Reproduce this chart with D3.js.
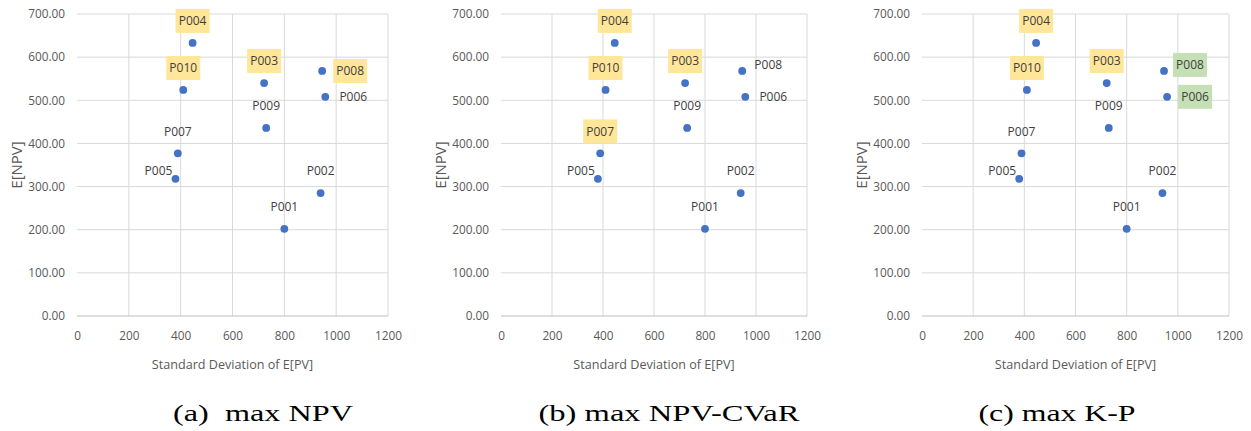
<!DOCTYPE html>
<html>
<head>
<meta charset="utf-8">
<script src="https://d3js.org/d3.v7.min.js"></script>
<style>
  body { margin: 0; background: #fff; }
  svg { display: block; }
  .tick text { font-family: "Open Sans", sans-serif; font-size: 11.8px; fill: #595959; }
</style>
</head>
<body>
<div id="chart"></div>
<script>
// portfolio data
var projects = ["P001", "P002", "P003", "P004", "P005", "P006", "P007", "P008", "P009", "P010"];
var stdDev = [800, 940, 722, 446, 380, 958, 389, 946, 730, 410];
var expNpv = [202, 285, 540, 633, 318, 508, 377, 568, 436, 524];

var xTicks = [0, 200, 400, 600, 800, 1000, 1200];
var yTicks = [0, 100, 200, 300, 400, 500, 600, 700];

var captions = ["(a)  max NPV", "(b) max NPV-CVaR", "(c) max K-P"];
var yellowLabels = [
  ["P004", "P010", "P003", "P008"],
  ["P004", "P010", "P003", "P007"],
  ["P004", "P010", "P003"]
];
var greenLabels = [[], [], ["P008", "P006"]];
// label placement differs a bit per panel
var placement = [
  { P008: "right", P006: "right", P005: "left" },
  { P008: "upright", P006: "right", P005: "left" },
  { P008: "upright", P006: "right", P005: "left" }
];

var W = 1251, H = 431;
var lefts = [77, 501, 922],
  widths = [311, 306, 307],
  captionCx = [263, 669, 1057],
  captionLen = [180, 261, 157],
  plotTop = 14,
  plotBottom = 316;

var svg = d3.select("#chart").append("svg").attr("width", W).attr("height", H);

var offsets = {
  top: [0, -22],
  right: [28, 0],
  upright: [26, -6],
  left: [-17, -8]
};

var data = projects.map(function (p, i) {
  return { name: p, x: stdDev[i], y: expNpv[i] };
});

lefts.forEach(function (left, k) {
  var x = d3.scaleLinear().domain([0, 1200]).range([left, left + widths[k]]);
  var y = d3.scaleLinear().domain([0, 700]).range([plotBottom, plotTop]);

  var g = svg.append("g");

  // grid
  g.append("g")
    .selectAll("line")
    .data(yTicks.filter(function (d) { return d > 0; }))
    .enter()
    .append("line")
    .attr("x1", x(0))
    .attr("x2", x(1200))
    .attr("y1", function (d) { return y(d); })
    .attr("y2", function (d) { return y(d); })
    .attr("stroke", "#d9d9d9")
    .attr("stroke-width", 1);
  g.append("g")
    .selectAll("line")
    .data(xTicks.filter(function (d) { return d > 0; }))
    .enter()
    .append("line")
    .attr("x1", function (d) { return x(d); })
    .attr("x2", function (d) { return x(d); })
    .attr("y1", y(0))
    .attr("y2", y(700))
    .attr("stroke", "#d9d9d9")
    .attr("stroke-width", 1);
  g.append("line")
    .attr("x1", x(0))
    .attr("x2", x(1200))
    .attr("y1", y(0))
    .attr("y2", y(0))
    .attr("stroke", "#bfbfbf");

  // axes (labels only)
  var ax = g.append("g")
    .attr("transform", "translate(0," + y(0) + ")")
    .call(d3.axisBottom(x).tickValues(xTicks).tickSize(0).tickPadding(16).tickFormat(d3.format("d")));
  ax.select(".domain").remove();

  var ay = g.append("g")
    .attr("transform", "translate(" + x(0) + ",0)")
    .call(d3.axisLeft(y).tickValues(yTicks).tickSize(0).tickPadding(12).tickFormat(d3.format(".2f")));
  ay.select(".domain").remove();

  g.append("text")
    .attr("x", (x(0) + x(1200)) / 2)
    .attr("y", 369)
    .attr("text-anchor", "middle")
    .attr("font-family", "Open Sans, sans-serif")
    .attr("font-size", 12.6)
    .attr("fill", "#595959")
    .text("Standard Deviation of E[PV]");

  g.append("text")
    .attr("transform", "translate(" + (x(0) - 55) + "," + (plotTop + plotBottom) / 2 + ") rotate(-90)")
    .attr("text-anchor", "middle")
    .attr("font-family", "Open Sans, sans-serif")
    .attr("font-size", 15)
    .attr("fill", "#595959")
    .text("E[NPV]");

  // points
  g.selectAll("circle")
    .data(data)
    .enter()
    .append("circle")
    .attr("cx", function (d) { return x(d.x); })
    .attr("cy", function (d) { return y(d.y); })
    .attr("r", 3.9)
    .attr("fill", "#4472c4");

  // labels
  var lab = g.selectAll("g.lab")
    .data(data)
    .enter()
    .append("g")
    .attr("class", "lab")
    .attr("transform", function (d) {
      var o = offsets[placement[k][d.name] || "top"];
      return "translate(" + (x(d.x) + o[0]) + "," + (y(d.y) + o[1]) + ")";
    });

  lab.filter(function (d) {
      return yellowLabels[k].indexOf(d.name) >= 0 || greenLabels[k].indexOf(d.name) >= 0;
    })
    .append("rect")
    .attr("x", -17)
    .attr("y", -12)
    .attr("width", 34)
    .attr("height", 24)
    .attr("fill", function (d) {
      return greenLabels[k].indexOf(d.name) >= 0 ? "#c5e0b4" : "#ffe699";
    });

  lab.append("text")
    .attr("text-anchor", "middle")
    .attr("dy", "0.35em")
    .attr("font-family", "Open Sans, sans-serif")
    .attr("font-size", 12)
    .attr("fill", "#404040")
    .text(function (d) { return d.name; });

  // caption
  svg.append("text")
    .attr("x", captionCx[k])
    .attr("y", 421)
    .attr("text-anchor", "middle")
    .attr("font-family", "Liberation Serif, Times New Roman, serif")
    .attr("font-size", 24)
    .attr("fill", "#000")
    .attr("textLength", captionLen[k])
    .attr("lengthAdjust", "spacingAndGlyphs")
    .style("white-space", "pre")
    .text(captions[k]);
});
</script>
</body>
</html>
